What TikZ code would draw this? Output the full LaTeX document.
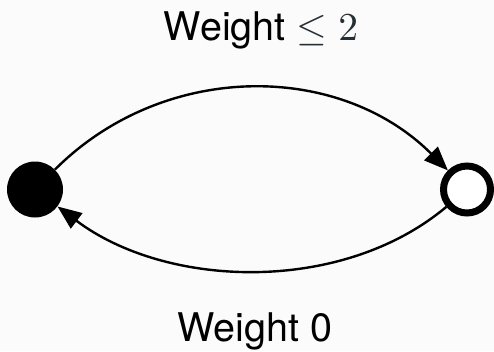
\documentclass[tikz,border=0pt]{standalone}
\usepackage[no-math]{fontspec}
\setmainfont{TeX Gyre Heros}
\usetikzlibrary{arrows.meta}
\definecolor{bgc}{RGB}{251,251,251}
\definecolor{mathc}{RGB}{36,48,52}
\tikzset{
  lbl/.style={anchor=base, inner sep=0pt, scale=3.95, font=\fontsize{10}{12}\selectfont},
  edgeline/.style={line width=2.4pt, -{Triangle[length=24pt,width=19pt]}},
}
\begin{document}
\begin{tikzpicture}[x=1pt,y=-1pt]
  \fill[bgc] (0,0) rectangle (494,351);
  \useasboundingbox (0,0) rectangle (494,351);
  \node[circle, fill=black, minimum size=56pt, inner sep=0pt] (b) at (35,189.5) {};
  \node[circle, draw=black, fill=white, line width=7pt, minimum size=47pt, inner sep=0pt] (w) at (467,189.5) {};
  \draw[edgeline] (b) to[out=45, in=135, looseness=1.0] (w);
  \draw[edgeline] (w) to[out=-140, in=-37, looseness=0.9] (b);
  \node[lbl] (t1) at (261,40) {Weight \textcolor{mathc}{$\leq 2$}};
  \node[lbl] (t2) at (255,341) {Weight 0};
\end{tikzpicture}
\end{document}
